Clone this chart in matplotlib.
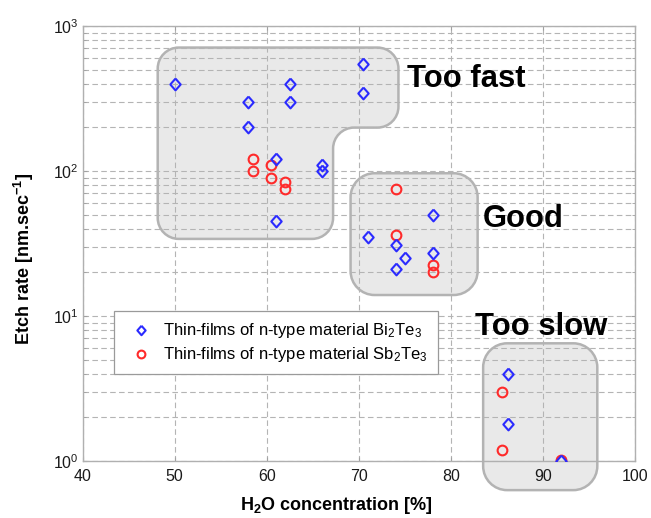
import numpy as np
import matplotlib
matplotlib.use("Agg")
import matplotlib.pyplot as plt
from matplotlib.path import Path
from matplotlib.patches import PathPatch
from matplotlib.ticker import LogLocator, NullFormatter, FixedLocator

plt.rcParams["font.family"] = ["Liberation Sans", "DejaVu Sans"]
plt.rcParams["mathtext.fontset"] = "custom"
plt.rcParams["mathtext.rm"] = "Liberation Sans"
plt.rcParams["mathtext.bf"] = "Liberation Sans:bold"
plt.rcParams["mathtext.it"] = "Liberation Sans:italic"

# data
bi_h2o = [50, 58, 58, 62.5, 62.5, 61, 61, 66, 66, 70.5, 70.5,
          78, 71, 74, 75, 78, 74, 86.2, 86.2, 92]
bi_rate = [400, 300, 200, 400, 300, 120, 45, 110, 100, 550, 345,
           50, 35, 31, 25, 27, 21, 4.0, 1.8, 1.0]

sb_h2o = [58.5, 58.5, 60.5, 60.5, 62, 62, 74, 74, 78, 78, 85.5, 85.5, 92]
sb_rate = [120, 100, 110, 90, 84, 75, 75, 36, 22.5, 20, 3.0, 1.2, 1.02]

# shaded zones (data corners)
zone_fast = [(48.15, 709), (74.3, 709), (74.3, 199), (67.2, 199), (67.2, 34), (48.15, 34)]
zone_good = [(69.1, 96.4), (82.9, 96.4), (82.9, 13.95), (69.1, 13.95)]
zone_slow = [(83.5, 6.48), (95.9, 6.48), (95.9, 0.63), (83.5, 0.63)]

zone_labels = ["Too fast", "Good", "Too slow"]
label_pos = [(75.2, 379), (83.5, 41.3), (82.6, 7.4)]


def rounded_zone(ax, verts, r, **kw):
    # rounded polygon built in pixels so corners stay circular on a log axis
    pts = ax.transData.transform(verts)
    n = len(pts)
    k = 0.5523
    path_v, codes = [], []
    for i in range(n):
        p0, p1, p2 = pts[i - 1], pts[i], pts[(i + 1) % n]
        d0 = (p0 - p1) / np.linalg.norm(p0 - p1)
        d2 = (p2 - p1) / np.linalg.norm(p2 - p1)
        a = p1 + d0 * r
        b = p1 + d2 * r
        path_v.append(a)
        codes.append(Path.MOVETO if i == 0 else Path.LINETO)
        path_v += [a + (p1 - a) * k, b + (p1 - b) * k, b]
        codes += [Path.CURVE4] * 3
    path_v.append(path_v[0])
    codes.append(Path.CLOSEPOLY)
    axes_v = ax.transAxes.inverted().transform(np.array(path_v))
    patch = PathPatch(Path(axes_v, codes), transform=ax.transAxes, **kw)
    ax.add_patch(patch)


fig = plt.figure(figsize=(6.51, 5.18), dpi=100)
ax = fig.add_axes([0.127, 0.110, 0.8485, 0.840])
ax.set_yscale("log")
ax.set_xlim(40, 100)
ax.set_ylim(1, 1000)

zone_style = dict(facecolor="#e9e9e9", edgecolor="#b3b3b3", linewidth=1.8,
                  zorder=1, clip_on=False)
rounded_zone(ax, zone_fast, 21, **zone_style)
rounded_zone(ax, zone_good, 24, **zone_style)
rounded_zone(ax, zone_slow, 24, **zone_style)

diamond = [(0, 1), (0.88, 0), (0, -1), (-0.88, 0), (0, 1)]
ax.plot(sb_h2o, sb_rate, linestyle="none", marker="o", markersize=7,
        markerfacecolor="none", markeredgecolor="#ff2a2a", markeredgewidth=1.5,
        label="Thin-films of n-type material Sb$_2$Te$_3$", zorder=3)
ax.plot(bi_h2o, bi_rate, linestyle="none", marker=diamond, markersize=8.5,
        markerfacecolor="none", markeredgecolor="#2b2bff", markeredgewidth=1.5,
        label="Thin-films of n-type material Bi$_2$Te$_3$", zorder=4)

for txt, (x, y) in zip(zone_labels, label_pos):
    ax.text(x, y, txt, fontsize=22.3, fontweight="bold", ha="left",
            va="baseline", color="black", zorder=5)

ax.xaxis.set_major_locator(FixedLocator([40, 50, 60, 70, 80, 90, 100]))
ax.yaxis.set_major_locator(LogLocator(base=10, numticks=10))
ax.yaxis.set_minor_locator(LogLocator(base=10, subs=np.arange(2, 10), numticks=10))
ax.yaxis.set_minor_formatter(NullFormatter())

grid_kw = dict(color="#b4b4b4", linestyle=(0, (5, 3)), linewidth=0.8)
ax.grid(True, which="major", **grid_kw)
ax.grid(True, which="minor", axis="y", **grid_kw)

ax.tick_params(which="both", direction="in", top=True, right=True,
               colors="#a0a0a0", labelcolor="#1a1a1a", labelsize=11.5)
ax.tick_params(which="major", length=3)
ax.tick_params(which="minor", length=2)
ax.tick_params(axis="x", pad=5.5)
ax.tick_params(axis="y", pad=3)
for s in ax.spines.values():
    s.set_color("#b0b0b0")
    s.set_linewidth(1.0)

ax.set_xlabel(r"H$_\mathbf{2}$O concentration [%]", fontsize=13, fontweight="bold")
ax.set_ylabel(r"Etch rate [nm.sec$^{\mathbf{-1}}$]", fontsize=13, fontweight="bold")
ax.xaxis.set_label_coords(0.46, -0.077)
ax.yaxis.set_label_coords(-0.085, 0.464)

handles, labels = ax.get_legend_handles_labels()
leg = ax.legend(handles[::-1], labels[::-1], loc="lower left",
                bbox_to_anchor=(0.057, 0.199), borderaxespad=0,
                fontsize=12, frameon=True, fancybox=False, framealpha=1,
                edgecolor="#9a9a9a", handlelength=2.0, borderpad=0.6,
                handletextpad=0.35, labelspacing=0.3, markerscale=0.8)
leg.get_frame().set_linewidth(0.9)
leg.set_zorder(6)

fig.savefig("out.png", dpi=100)
